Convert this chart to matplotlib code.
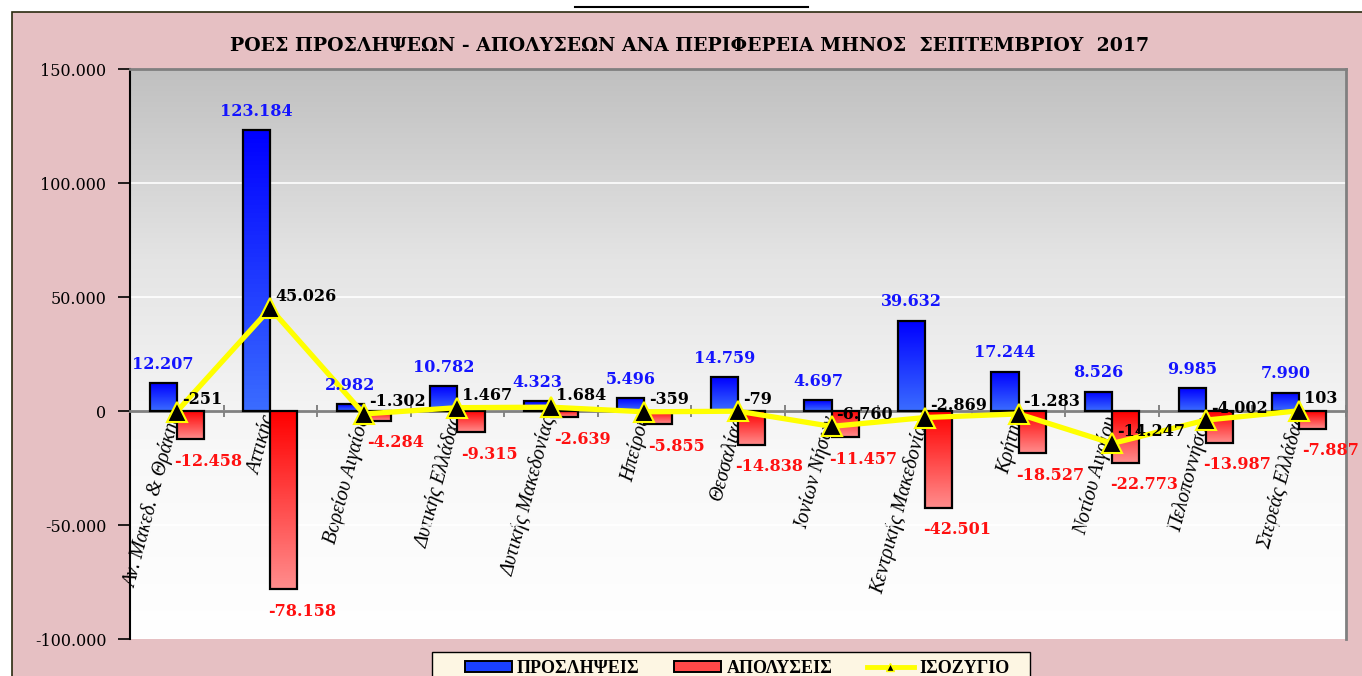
import numpy as np
import matplotlib
matplotlib.use('Agg')
import matplotlib.pyplot as plt
from matplotlib.colors  import LinearSegmentedColormap
from matplotlib.patches import Rectangle, Patch
from matplotlib.lines   import Line2D
from matplotlib.ticker  import FuncFormatter


# Chart data (Σεπτέμβριος 2017)
regions = ['Αν. Μακεδ. & Θράκης', 'Αττικής', 'Βορείου Αιγαίου',
           'Δυτικής Ελλάδας', 'Δυτικής Μακεδονίας', 'Ηπείρου',
           'Θεσσαλίας', 'Ιονίων Νήσων', 'Κεντρικής Μακεδονίας',
           'Κρήτης', 'Νοτίου Αιγαίου', 'Πελοποννήσου', 'Στερεάς Ελλάδας']
hires   = [12207, 123184, 2982, 10782, 4323, 5496, 14759,
           4697, 39632, 17244, 8526, 9985, 7990]
fires   = [-12458, -78158, -4284, -9315, -2639, -5855, -14838,
           -11457, -42501, -18527, -22773, -13987, -7887]
balance = [-251, 45026, -1302, 1467, 1684, -359, -79,
           -6760, -2869, -1283, -14247, -4002, 103]
y_ticks = [-100000, -50000, 0, 50000, 100000, 150000]

title         = 'ΡΟΕΣ ΠΡΟΣΛΗΨΕΩΝ - ΑΠΟΛΥΣΕΩΝ ΑΝΑ ΠΕΡΙΦΕΡΕΙΑ ΜΗΝΟΣ  ΣΕΠΤΕΜΒΡΙΟΥ  2017'
legend_labels = ['ΠΡΟΣΛΗΨΕΙΣ', 'ΑΠΟΛΥΣΕΙΣ', 'ΙΣΟΖΥΓΙΟ']

# Plotting parameters
W, H       = 1362, 676
bar_width  = 0.29
label_font = 'DejaVu Serif'
text_font  = 'Liberation Serif'


def thousands(value, pos=None):
    """Greek style thousands separator"""
    return '{:,}'.format(int(round(value))).replace(',', '.')


def gradient_fill(ax, bar, top_color, bottom_color):
    """Fill a bar with a vertical colour gradient"""
    x0, y0 = bar.get_xy()
    y_low, y_high = sorted([y0, y0 + bar.get_height()])
    cmap = LinearSegmentedColormap.from_list('g', [top_color, bottom_color])
    image = ax.imshow(np.linspace(0, 1, 64).reshape(-1, 1), cmap=cmap,
                      extent=[x0, x0 + bar.get_width(), y_low, y_high],
                      origin='upper', aspect='auto', zorder=2.9)
    image.set_clip_path(bar)


fig = plt.figure(figsize=(W / 100, H / 100), dpi=100)
fig.patch.set_facecolor('white')
#       Pink chart area and the cut-off header underline
fig.add_artist(Rectangle((12 / W, -0.1), 1.1, 1.1 - 12 / H,
                         transform=fig.transFigure, facecolor='#e6c0c3',
                         edgecolor='#2b2b10', lw=1.2, zorder=-1))
fig.add_artist(Line2D([575 / W, 808 / W], [1 - 7 / H, 1 - 7 / H],
                      color='black', lw=1.5))
fig.text(690 / W, 1 - 46 / H, title, ha='center', va='center',
         fontsize=13.6, fontweight='bold', family=label_font)

ax = fig.add_axes([130 / W, 1 - 639 / H, (1346 - 130) / W, (639 - 69) / H])
x  = np.arange(len(regions))

#       Spines first (moving a spine resets the ticks)
ax.spines['bottom'].set_position(('data', 0))
ax.spines['bottom'].set_color('#808080')
ax.spines['bottom'].set_linewidth(2)
ax.spines['left'].set_linewidth(1.5)
for side in ['top', 'right']:
    ax.spines[side].set_color('#808080')
    ax.spines[side].set_linewidth(2)

#       Grey to white plot background
back = LinearSegmentedColormap.from_list('b', ['#c0c0c0', '#e4e4e4',
                                               '#f8f8f8', '#ffffff'])
ax.imshow(np.linspace(0, 1, 256).reshape(-1, 1), cmap=back, origin='upper',
          extent=[-0.5, len(regions) - 0.5, y_ticks[0], y_ticks[-1]],
          aspect='auto', zorder=0)

#       Bars
blue_bars = ax.bar(x - bar_width / 2, hires, bar_width, facecolor='none',
                   edgecolor='black', lw=1.6, zorder=3)
red_bars  = ax.bar(x + bar_width / 2, fires, bar_width, facecolor='none',
                   edgecolor='black', lw=1.6, zorder=3)
for bar in blue_bars:
    gradient_fill(ax, bar, '#0000ff', '#3a6cff')
for bar in red_bars:
    gradient_fill(ax, bar, '#ff0000', '#ff8c8c')

#       Balance line
ax.plot(x, balance, color='#ffff00', lw=3.8, marker='^', ms=15,
        mfc='black', mec='#ffff00', mew=1.5, zorder=4)

#       Data labels
for xi, v in zip(x - bar_width / 2, hires):
    ax.annotate(thousands(v), (xi, v), xytext=(0, 19),
                textcoords='offset pixels', ha='center', va='center',
                color='#1414ff', fontsize=11.5, fontweight='bold',
                family=label_font, zorder=5)
for xi, v in zip(x + bar_width / 2, fires):
    ax.annotate(thousands(v), (xi, v), xytext=(18, -22),
                textcoords='offset pixels', ha='center', va='center',
                color='#ff1010', fontsize=11.5, fontweight='bold',
                family=label_font, zorder=5)
for xi, v in zip(x, balance):
    ax.annotate(thousands(v), (xi, v), xytext=(5, 12),
                textcoords='offset pixels', ha='left', va='center',
                color='black', fontsize=11.5, fontweight='bold',
                family=label_font, zorder=5)

#       Axes
ax.set_xlim(-0.5, len(regions) - 0.5)
ax.set_ylim(y_ticks[0], y_ticks[-1])
ax.set_xticks(x)
ax.set_xticklabels(regions, rotation=75, ha='right', va='center',
                   rotation_mode='anchor', fontsize=14.5, fontstyle='italic',
                   family=text_font)
ax.set_xticks(np.arange(len(regions) + 1) - 0.5, minor=True)
ax.tick_params(axis='x', which='major', length=0, pad=4)
ax.tick_params(axis='x', which='minor', length=8, direction='inout',
               color='#707070', width=1.2)
ax.set_yticks(y_ticks)
ax.yaxis.set_major_formatter(FuncFormatter(thousands))
ax.tick_params(axis='y', length=9, direction='out', width=1.2, pad=8,
               labelsize=11.5)
for label in ax.get_yticklabels():
    label.set_family(label_font)
ax.yaxis.grid(True, color='white', lw=1.2)
ax.set_axisbelow(True)

#       Legend, with its frame drawn separately
fig.add_artist(Rectangle((432 / W, -0.1), (1030 - 432) / W, 0.1 + 1 - 652 / H,
                         transform=fig.transFigure, facecolor='#fdf6e3',
                         edgecolor='black', lw=1, zorder=4))
handles = [Patch(facecolor='#1a40ff', edgecolor='black', lw=1.4),
           Patch(facecolor='#ff4848', edgecolor='black', lw=1.4),
           Line2D([0], [0], color='#ffff00', lw=3.5, marker='^', ms=6,
                  mfc='black', mec='#ffff00')]
legend = fig.legend(handles, legend_labels, loc='upper center', ncol=3,
                    bbox_to_anchor=(737 / W, 1 - 652 / H),
                    bbox_transform=fig.transFigure, frameon=False,
                    handlelength=2.6, handleheight=0.6,
                    handletextpad=0.3, columnspacing=1.9, borderpad=0.45,
                    borderaxespad=0,
                    prop={'family': text_font, 'weight': 'bold', 'size': 13})
legend.set_zorder(5)

fig.savefig('out.png', dpi=100)
